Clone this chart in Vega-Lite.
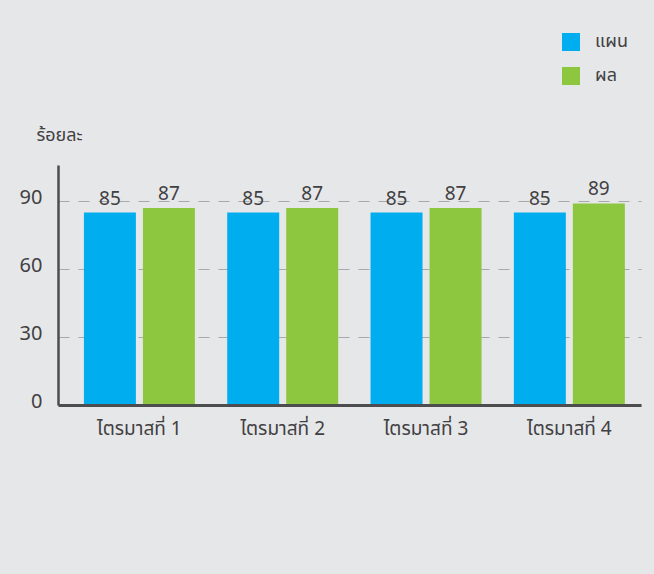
{
  "$schema": "https://vega.github.io/schema/vega-lite/v6.json",
  "width": 583,
  "height": 240,
  "autosize": "none",
  "padding": {"left": 58, "top": 165, "right": 13, "bottom": 169},
  "background": "#e6e7e9",
  "config": {
    "view": {"stroke": null},
    "font": "Noto Sans Thai, Noto Sans, DejaVu Sans, sans-serif"
  },
  "data": {
    "values": [
      {"quarter": "ไตรมาสที่ 1", "series": "แผน", "value": 85},
      {"quarter": "ไตรมาสที่ 1", "series": "ผล", "value": 87},
      {"quarter": "ไตรมาสที่ 2", "series": "แผน", "value": 85},
      {"quarter": "ไตรมาสที่ 2", "series": "ผล", "value": 87},
      {"quarter": "ไตรมาสที่ 3", "series": "แผน", "value": 85},
      {"quarter": "ไตรมาสที่ 3", "series": "ผล", "value": 87},
      {"quarter": "ไตรมาสที่ 4", "series": "แผน", "value": 85},
      {"quarter": "ไตรมาสที่ 4", "series": "ผล", "value": 89}
    ]
  },
  "encoding": {
    "x": {
      "field": "quarter",
      "type": "nominal",
      "sort": null,
      "scale": {"paddingInner": 0, "paddingOuter": 0.034, "align": 1},
      "axis": {
        "title": null,
        "ticks": false,
        "grid": false,
        "labelAngle": 0,
        "labelFontSize": 19,
        "labelColor": "#414042",
        "labelPadding": 14,
        "domainColor": "#4d4d4f",
        "domainWidth": 3,
        "zindex": 1
      }
    },
    "xOffset": {
      "field": "series",
      "sort": ["แผน", "ผล"],
      "scale": {"paddingInner": 0.119, "paddingOuter": 0.274}
    },
    "y": {
      "field": "value",
      "type": "quantitative",
      "scale": {"domain": [0, 106], "nice": false},
      "axis": {
        "values": [0, 30, 60, 90],
        "ticks": false,
        "labelFontSize": 20,
        "labelColor": "#414042",
        "labelPadding": 16,
        "labelOffset": -4,
        "domainColor": "#4d4d4f",
        "domainWidth": 2.5,
        "gridColor": "#a7a9ac",
        "gridDash": [11, 9],
        "gridWidth": 1.2,
        "title": "ร้อยละ",
        "titleAngle": 0,
        "titleAlign": "left",
        "titleBaseline": "middle",
        "titleX": -22,
        "titleY": -30,
        "titleFontSize": 18,
        "titleFontWeight": "normal",
        "titleColor": "#414042"
      }
    }
  },
  "layer": [
    {
      "mark": {"type": "bar"},
      "encoding": {
        "color": {
          "field": "series",
          "type": "nominal",
          "sort": ["แผน", "ผล"],
          "scale": {"domain": ["แผน", "ผล"], "range": ["#00aeef", "#8dc63f"]},
          "legend": {
            "orient": "none",
            "legendX": 504,
            "legendY": -132,
            "title": null,
            "symbolType": "square",
            "symbolSize": 324,
            "symbolOpacity": 1,
            "symbolStrokeWidth": 0,
            "labelFontSize": 18,
            "labelColor": "#414042",
            "labelOffset": 15,
            "rowPadding": 16
          }
        }
      }
    },
    {
      "mark": {"type": "text", "baseline": "bottom", "dy": -4, "fontSize": 19, "color": "#414042"},
      "encoding": {"text": {"field": "value", "type": "quantitative"}}
    }
  ]
}
